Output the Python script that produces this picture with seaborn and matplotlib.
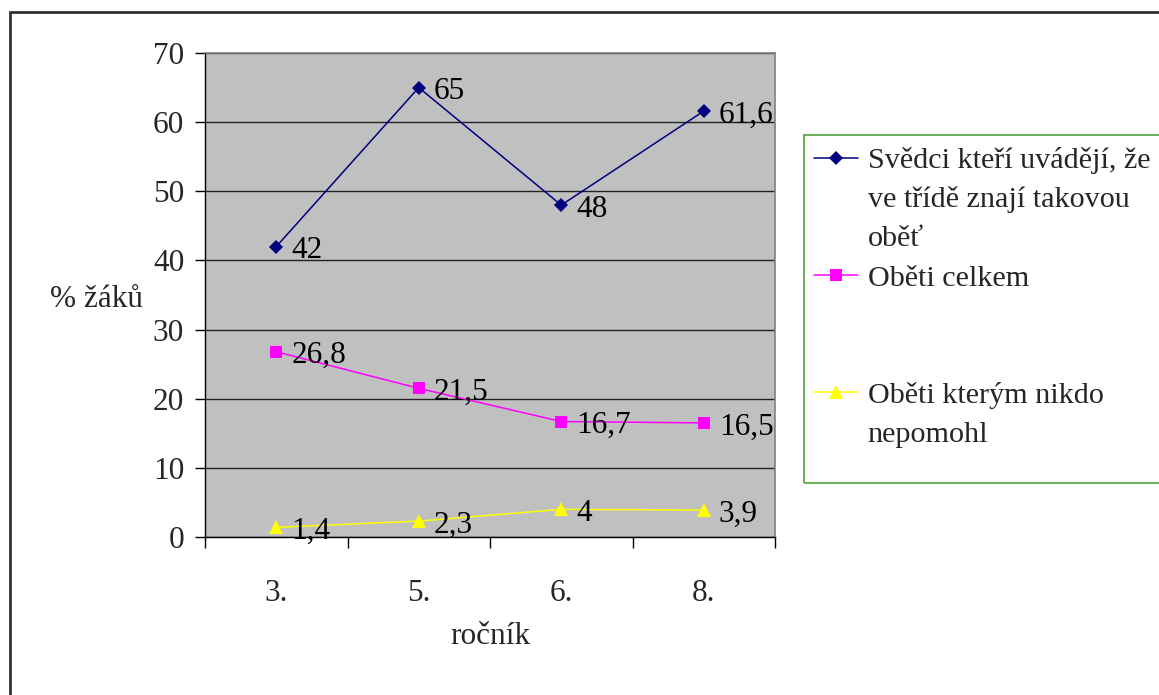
import matplotlib
matplotlib.use("Agg")
import matplotlib.pyplot as plt
from matplotlib.lines import Line2D
from matplotlib.patches import Rectangle
import seaborn as sns
import pandas as pd

# grades surveyed and percentages per group
grades = ["3.", "5.", "6.", "8."]
witnesses = [42, 65, 48, 61.6]
victims_total = [26.8, 21.5, 16.7, 16.5]
victims_unhelped = [1.4, 2.3, 4, 3.9]

series_names = [
    "Svědci kteří uvádějí, že ve třídě znají takovou oběť",
    "Oběti celkem",
    "Oběti kterým nikdo nepomohl",
]
series_values = [witnesses, victims_total, victims_unhelped]
colors = ["#000080", "#FF00FF", "#FFFF00"]
markers = ["D", "s", "^"]
msizes = [7.5, 8, 9.5]

sns.set_theme(style="white")
plt.rcParams["font.family"] = ["Liberation Serif", "DejaVu Serif"]
FS = 22.5
LEG_FS = 21.7

rows = []
for name, vals in zip(series_names, series_values):
    for g, v in zip(grades, vals):
        rows.append({"ročník": g, "hodnota": v, "skupina": name})
df = pd.DataFrame(rows)

fig = plt.figure(figsize=(11.59, 6.95), dpi=100)
ax = fig.add_axes([205 / 1159, 158 / 695, 570 / 1159, 484 / 695])
ax.set_facecolor("#C0C0C0")

sns.lineplot(
    data=df, x="ročník", y="hodnota", hue="skupina", style="skupina",
    palette=dict(zip(series_names, colors)),
    markers=dict(zip(series_names, markers)),
    dashes=False, sort=False, legend=False, ax=ax, linewidth=1.1,
    markeredgewidth=0,
)
for line, ms, c in zip(ax.lines, msizes, colors):
    line.set_markersize(ms)
    line.set_markerfacecolor(c)
    line.set_markeredgecolor(c)

# data labels to the right of each point
for vals in series_values:
    for i, v in enumerate(vals):
        ax.annotate(
            f"{v:g}".replace(".", ","), xy=(i, v), xytext=(15, -4),
            textcoords="offset pixels", ha="left", va="center",
            fontsize=FS, color="black", annotation_clip=False,
        )

ax.set_xlim(-0.5, len(grades) - 0.5)
ax.set_ylim(0, 70)
ax.set_yticks(range(0, 71, 10))
ax.set_xticks(range(len(grades)))
ax.set_xticklabels(grades)
ax.set_xticks([i - 0.5 for i in range(len(grades) + 1)], minor=True)
ax.tick_params(axis="x", which="major", length=0, pad=30, labelsize=FS)
ax.tick_params(axis="x", which="minor", length=8, width=1, color="black",
               direction="out", bottom=True)
ax.tick_params(axis="y", length=7, width=1, color="black", direction="out",
               pad=8, labelsize=FS, left=True)
ax.yaxis.grid(True, color="#222222", linewidth=1)
ax.set_axisbelow(True)

for side in ["left", "bottom"]:
    ax.spines[side].set_color("black")
    ax.spines[side].set_linewidth(1)
for side in ["top", "right"]:
    ax.spines[side].set_color("#808080")
    ax.spines[side].set_linewidth(1.2)

ax.set_xlabel("ročník", fontsize=FS)
ax.xaxis.set_label_coords(0.5, (537 - 636) / 484)
ax.xaxis.label.set_va("center")
ax.set_ylabel("% žáků", fontsize=FS, rotation=0)
ax.yaxis.set_label_coords((97 - 205) / 570, 0.49)
ax.yaxis.label.set_va("center")
ax.yaxis.label.set_ha("center")

# legend, with wrapped labels spread over rows
blank = Line2D([], [], linestyle="none")
handles = [Line2D([], [], color=c, marker=m, markersize=ms, linewidth=1.1,
                  markeredgewidth=0) for c, m, ms in zip(colors, markers, msizes)]
leg_handles = [handles[0], blank, blank, handles[1], blank, blank, handles[2], blank]
leg_labels = ["Svědci kteří uvádějí, že", "ve třídě znají takovou", "oběť",
              "Oběti celkem", " ", " ", "Oběti kterým nikdo", "nepomohl"]
fig.legend(leg_handles, leg_labels, loc="upper left",
           bbox_to_anchor=(814 / 1159, 1 - 147 / 695), frameon=False,
           fontsize=LEG_FS, handlelength=1.45, handletextpad=0.33,
           labelspacing=0.4, borderaxespad=0, borderpad=0)

fig.patches.append(Rectangle((804 / 1159, 1 - 483 / 695), 0.4, (483 - 135) / 695,
                             transform=fig.transFigure, fill=False,
                             edgecolor="#6cb25e", linewidth=1.5, clip_on=False))
fig.patches.append(Rectangle((10 / 1159, -0.1), 1.1, 1.1 - 12 / 695,
                             transform=fig.transFigure, fill=False,
                             edgecolor="#333333", linewidth=2, clip_on=False))

fig.savefig("out.png", dpi=100)
